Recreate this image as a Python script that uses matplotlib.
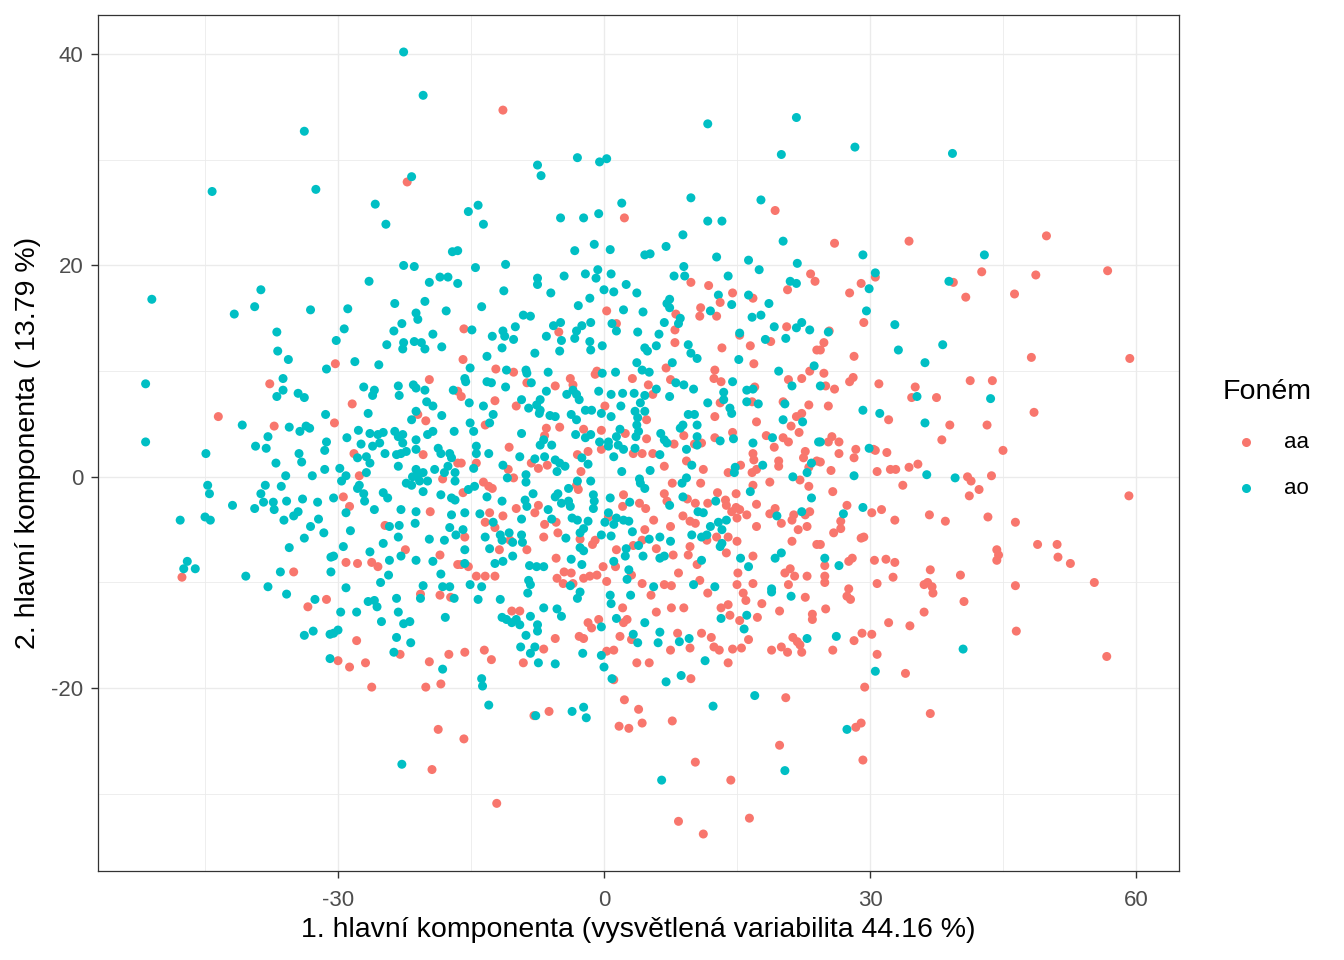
import matplotlib.pyplot as plt
from matplotlib.lines import Line2D

plt.rcParams['font.family'] = ['Liberation Sans', 'DejaVu Sans']
plt.rcParams['axes.unicode_minus'] = False

aa_pts = [
    (-22.2, 27.9), (-11.4, 34.7), (2.3, 24.5), (19.3, 25.2), (9.8, 18.4), (11.8, 18.1), (14.5, 17.4),
    (16.8, 16.9), (20.7, 17.7), (23.3, 19.2), (23.8, 18.5),
    (26.0, 22.1), (34.4, 22.3), (49.9, 22.8), (30.6, 18.9), (29.0, 18.3), (27.7, 17.4), (39.4, 18.4),
    (42.6, 19.4), (40.8, 17.0), (46.3, 17.3), (48.7, 19.1), (56.8, 19.5),
    (-30.3, 10.7), (-37.7, 8.8), (-43.5, 5.7), (-37.2, 4.8), (-30.4, 5.1), (-27.6, 0.1), (-28.2, 2.2),
    (-28.4, 6.9), (-19.7, 9.2), (-21.0, 5.9), (-20.1, 5.3), (-16.5, 8.1), (-20.4, 2.1), (-16.5, 1.3),
    (-18.2, -0.2), (-29.4, -1.9), (-28.7, -2.8), (-19.6, -3.3), (-24.7, -4.6), (-29.1, -8.1), (-27.8, -8.2),
    (-26.2, -8.1), (-25.5, -8.5), (-22.4, -6.9), (-18.5, -7.4), (-16.5, -8.3), (-47.6, -9.5), (-35.0, -9.0),
    (29.3, 14.6), (25.4, 13.8), (24.8, 12.7), (24.4, 12.0), (28.2, 11.4), (48.2, 11.3), (59.3, 11.2),
    (24.8, 9.8), (28.1, 9.4), (27.7, 9.0), (31.0, 8.8), (25.0, 8.6), (26.0, 8.3), (35.1, 8.5), (34.7, 7.5),
    (37.5, 7.5), (41.3, 9.1), (43.8, 9.1), (25.3, 6.7), (32.1, 5.4), (39.0, 4.9), (43.2, 4.9), (48.5, 6.1),
    (38.1, 3.5), (25.7, 3.8), (25.3, 3.3), (26.5, 3.3), (30.4, 2.6), (30.6, 2.5), (31.9, 2.3), (28.4, 2.6),
    (28.2, 1.8), (26.5, 2.2), (45.0, 2.5), (24.4, 1.4), (25.6, 0.6), (30.8, 0.5), (32.3, 0.7), (32.9, 0.7),
    (34.4, 0.9), (35.4, 1.2), (41.0, 0.0), (41.4, -0.4), (43.7, 0.1), (33.7, -0.8), (25.8, -1.4),
    (42.3, -1.2), (41.2, -1.8), (59.2, -1.8), (27.4, -2.7), (30.2, -3.4), (31.3, -3.1), (36.7, -3.6),
    (43.3, -3.8), (32.8, -4.1), (38.5, -4.2), (46.4, -4.3), (26.7, -4.2), (26.7, -4.9), (25.9, -5.3),
    (29.0, -5.8), (29.3, -5.7), (24.4, -6.4), (48.9, -6.4), (51.1, -6.4), (44.3, -6.9), (44.5, -7.4),
    (44.3, -7.9), (51.2, -7.6), (52.6, -8.2), (24.9, -8.4), (27.6, -8.0), (28.0, -7.7), (30.5, -7.9),
    (31.8, -7.8), (32.8, -8.1), (36.8, -8.8), (40.2, -9.3), (32.6, -9.5), (24.9, -9.4), (24.9, -10.0),
    (30.8, -10.1), (36.1, -10.2), (36.5, -10.0), (37.0, -10.4), (27.6, -10.6), (46.4, -10.3), (55.3, -10.0),
    (0.3, 15.7), (8.1, 15.4), (10.9, 16.0), (10.8, 15.2), (12.7, 15.2), (13.1, 16.5), (-15.8, 14.0),
    (-5.1, 13.7), (1.4, 14.5), (8.0, 13.9), (8.0, 12.7), (20.6, 14.2), (13.3, 12.2), (15.3, 13.4),
    (16.5, 12.4), (18.8, 12.8), (24.0, 12.0), (16.9, 10.7), (23.2, 10.0), (-15.9, 11.1), (-12.2, 10.2),
    (-10.2, 9.9), (7.0, 10.3), (-0.8, 10.0), (-1.0, 9.7), (12.5, 10.1),
    (-16.1, 7.6), (-8.7, 8.9), (-5.5, 8.6), (-3.8, 9.3), (-3.5, 8.7), (3.2, 9.3), (5.0, 8.7), (5.5, 7.8),
    (7.5, 9.2), (12.4, 9.3), (13.2, 9.0), (13.1, 7.0), (17.0, 8.5), (16.7, 7.1), (20.8, 9.2), (22.3, 9.3),
    (20.2, 7.1), (-12.3, 7.2), (-9.9, 6.7),
    (-13.4, 4.9), (-5.0, 4.7), (-6.5, 4.6), (-6.7, 3.9), (0.1, 6.7), (4.8, 5.4), (-2.3, 4.5), (-0.3, 4.4),
    (2.4, 4.1), (4.8, 3.6), (7.9, 3.1), (9.0, 3.9), (12.5, 5.7), (14.5, 4.2), (12.5, 3.7), (17.2, 5.2),
    (18.3, 3.9), (21.1, 4.8), (22.0, 4.2), (21.7, 5.7), (22.3, 6.0), (23.1, 6.8), (20.2, 3.7), (20.8, 3.3),
    (-10.7, 2.8), (-14.4, 1.3), (-16.1, 1.3), (-10.8, 0.7), (-8.2, 1.3), (-7.4, 0.8), (-6.4, 1.1),
    (-3.0, 2.1), (-1.8, 2.4), (-2.6, 0.5), (-0.3, 2.6), (3.3, 2.2), (4.3, 2.2), (5.5, 2.2), (6.8, 1.0),
    (9.3, 1.5), (10.2, 3.1), (11.0, 3.2), (11.2, 0.7), (14.0, 0.4), (15.4, 1.1), (16.8, 2.2), (16.9, 1.6),
    (16.7, 0.4), (17.2, 0.7), (19.2, 2.8), (19.7, 1.5), (19.7, 1.0), (22.7, 2.4), (22.5, 1.8), (24.0, 1.5),
    (23.1, 0.9),
    (-10.2, -0.1), (-13.6, -0.5), (-13.0, -0.9), (-12.6, -1.1), (-15.9, -1.5), (-7.4, -2.7), (-7.8, -3.4),
    (-9.9, -3.0), (-3.1, -0.8), (-2.9, -1.2), (2.2, -1.7), (2.1, -2.8), (4.0, -2.5), (4.7, -3.0),
    (7.7, -0.6), (10.9, -0.6), (6.8, -1.6), (7.1, -2.3), (9.4, -2.1), (10.3, -2.5), (11.7, -2.5),
    (12.8, -1.5), (13.7, -2.2), (13.8, -2.7), (14.9, -1.6), (14.9, -2.9), (16.8, -0.8), (18.7, -0.5),
    (22.1, -0.3), (23.1, -0.9), (17.2, -2.6), (19.3, -3.0), (21.4, -3.6), (23.2, -3.3),
    (-12.9, -3.4), (-11.4, -3.7), (-13.4, -4.3), (-12.3, -4.8), (-10.6, -6.0), (-8.7, -6.9), (-11.8, -6.9),
    (-15.7, -5.7), (-6.7, -4.5), (-5.4, -4.3), (-6.8, -5.7), (-5.2, -5.3), (-2.7, -5.9), (-1.0, -6.0),
    (-1.3, -6.4), (0.5, -3.8), (4.6, -5.0), (5.6, -4.1), (7.5, -4.7), (4.3, -6.0), (3.3, -6.5), (1.4, -6.9),
    (5.9, -6.8), (7.8, -7.4), (8.9, -3.7), (9.7, -4.2), (10.3, -4.4), (12.7, -5.7), (14.0, -5.7),
    (14.4, -3.3), (15.3, -3.1), (15.0, -3.9), (16.1, -3.6), (17.2, -4.7), (20.0, -4.4), (18.7, -3.5),
    (21.2, -4.1), (21.9, -5.0), (22.9, -4.7), (22.7, -3.6), (21.2, -6.1), (15.0, -6.1), (11.6, -6.0),
    (9.7, -6.6), (13.8, -7.2), (9.5, -7.4), (24.0, -6.4),
    (-16.1, -8.3), (-15.3, -8.5), (-14.4, -9.4), (-13.4, -9.4), (-12.3, -9.4), (-5.4, -7.7), (-5.3, -9.6),
    (-4.5, -9.0), (-3.7, -9.1), (-4.6, -10.1), (-3.5, -10.1), (-2.3, -9.6), (-1.6, -9.4), (-0.8, -9.3),
    (-0.1, -8.5), (0.3, -9.9), (1.3, -8.5), (3.1, -9.3), (4.3, -10.1), (6.8, -10.2), (7.6, -10.3),
    (8.4, -9.1), (10.5, -8.3), (10.8, -9.8), (15.1, -9.1), (15.0, -10.2), (16.8, -7.5), (16.8, -10.1),
    (21.0, -8.7), (21.5, -9.4), (22.9, -9.4), (20.4, -9.1), (20.8, -10.2),
    (-31.3, -11.6), (-33.4, -12.3), (-20.7, -11.1), (-18.5, -11.2), (-17.3, -11.4), (-27.9, -15.5),
    (-23.0, -16.8), (-30.0, -17.4), (-28.7, -18.0), (-26.9, -17.6), (-19.7, -17.5), (-17.5, -16.8),
    (-26.2, -19.9), (-20.1, -19.9), (-18.4, -19.6), (-18.7, -23.9), (-19.4, -27.7),
    (5.3, -11.2), (11.7, -11.0), (15.7, -11.0), (16.0, -11.7), (22.7, -11.4), (-10.4, -12.7), (-9.5, -12.7),
    (-5.5, -15.3), (-1.8, -13.8), (-1.4, -14.3), (-0.6, -13.5), (-2.8, -15.1), (-2.3, -15.3), (-6.8, -16.3),
    (-15.7, -16.6), (-13.5, -16.4), (-12.7, -17.3), (-9.1, -17.6), (0.3, -16.5), (1.1, -16.4), (1.1, -19.2),
    (-7.9, -22.6), (-6.2, -22.2), (-15.8, -24.8), (-12.1, -30.9), (2.1, -12.4), (2.2, -13.8), (2.6, -13.5),
    (3.1, -15.4), (1.8, -15.1), (5.9, -12.8), (7.6, -12.4), (9.0, -12.4), (8.3, -14.8), (7.5, -16.4),
    (9.7, -16.2), (3.7, -17.6), (5.1, -17.6), (9.8, -19.1), (11.0, -14.8), (12.1, -15.2), (12.4, -16.1),
    (13.0, -16.4), (14.0, -17.6), (13.2, -12.4), (14.0, -12.1), (14.2, -13.1), (15.3, -13.6), (16.3, -15.4),
    (14.5, -16.3), (15.5, -16.2), (17.3, -13.3), (17.8, -12.0), (19.8, -12.7), (23.5, -13.0), (23.5, -13.5),
    (18.9, -16.4), (20.0, -16.1), (20.7, -16.6), (21.3, -15.2), (21.8, -15.6), (22.1, -15.9), (22.3, -16.6),
    (20.5, -20.9), (2.3, -21.1), (3.9, -22.0), (4.3, -23.3), (1.7, -23.6), (2.8, -23.8), (7.7, -23.1),
    (10.3, -27.0), (14.3, -28.7), (19.8, -25.4), (8.4, -32.6), (11.2, -33.8), (16.4, -32.3),
    (27.4, -11.3), (27.8, -11.6), (37.1, -11.0), (25.0, -12.5), (40.6, -11.8), (36.1, -12.8), (32.1, -13.8),
    (34.5, -14.1), (29.1, -14.8), (30.2, -14.9), (28.2, -15.5), (25.8, -16.4), (30.8, -16.8), (46.5, -14.6),
    (56.7, -17.0), (34.0, -18.6), (29.4, -19.9), (36.8, -22.4), (29.0, -23.3), (28.4, -23.7), (29.2, -26.8),
]

ao_pts = [
    (-22.6, 40.2), (-20.4, 36.1), (-33.8, 32.7), (-44.2, 27.0), (-32.5, 27.2), (-21.7, 28.4), (-25.8, 25.8),
    (-24.6, 23.9), (-17.1, 21.3), (-16.5, 21.4), (-22.6, 20.0), (-21.4, 19.9), (-26.5, 18.5), (-19.7, 18.4),
    (-18.5, 18.9), (-17.6, 18.9), (-16.5, 18.3), (-38.7, 17.7), (-51.0, 16.8),
    (11.7, 33.4), (21.7, 34.0), (-7.5, 29.5), (-7.1, 28.5), (-3.0, 30.2), (-0.5, 29.8), (0.3, 30.1),
    (20.0, 30.5), (-15.3, 25.1), (-14.2, 25.7), (-13.6, 23.9), (-4.9, 24.5), (-2.3, 24.5), (-0.6, 24.9),
    (2.0, 25.9), (9.8, 26.4), (17.7, 26.2), (11.7, 24.2), (13.3, 24.2), (8.9, 22.9), (20.2, 22.3),
    (-3.3, 21.4), (-1.1, 22.0), (0.7, 21.5), (4.6, 21.0), (5.2, 21.1), (7.0, 21.8), (12.7, 20.8),
    (16.3, 20.5), (17.5, 19.6), (21.8, 20.2), (-14.5, 19.8), (-11.1, 20.1), (9.0, 19.9), (-11.3, 17.6),
    (-7.5, 18.8), (-7.5, 18.2), (-6.0, 17.4), (-4.5, 19.0), (-2.1, 19.2), (-0.7, 19.6), (-0.9, 18.8),
    (0.8, 19.2), (2.5, 18.2), (0.0, 17.7), (1.1, 17.5), (3.7, 17.4), (-1.6, 16.9), (7.9, 19.0), (9.1, 19.0),
    (14.0, 19.0), (12.9, 17.2), (16.3, 17.2), (7.4, 16.8), (21.0, 18.5), (21.7, 18.3),
    (28.3, 31.2), (39.3, 30.6), (29.2, 21.0), (42.9, 21.0), (30.6, 19.3), (29.9, 17.8), (38.9, 18.5),
    (-41.7, 15.4), (-39.4, 16.1), (-33.1, 15.8), (-28.9, 15.9), (-23.6, 16.4), (-20.2, 16.6), (-17.8, 15.7),
    (-36.9, 13.7), (-29.3, 14.0), (-30.2, 12.9), (-36.8, 11.9), (-35.6, 11.1), (-31.3, 10.2), (-28.1, 10.9),
    (-25.4, 10.6), (-23.7, 13.8), (-22.8, 14.5), (-21.2, 15.5), (-21.0, 14.9), (-19.3, 13.5), (-24.5, 12.5),
    (-22.6, 12.7), (-22.7, 12.1), (-21.4, 12.8), (-20.6, 12.7), (-20.2, 12.1), (-18.3, 12.3), (-51.7, 8.8),
    (-51.7, 3.3), (-36.2, 9.3), (-36.2, 8.2), (-36.9, 7.6), (-34.5, 7.9), (-33.8, 7.5), (-40.8, 4.9),
    (-35.5, 4.7), (-34.3, 4.3), (-33.6, 4.8), (-33.2, 4.6), (-31.4, 5.9), (-37.9, 3.8), (-39.3, 2.9),
    (-38.1, 2.7), (-44.9, 2.2), (-37.0, 1.3), (-34.4, 2.2), (-34.1, 1.4), (-31.3, 3.3), (-31.5, 2.5),
    (-31.5, 0.7), (-35.9, 0.1), (-32.9, 0.1), (-29.8, 0.8), (-29.1, 0.1), (-29.6, -0.4), (-29.0, 3.7),
    (-27.7, 4.4), (-27.4, 3.1), (-26.6, 6.0), (-27.1, 8.5), (-26.1, 7.7), (-25.9, 8.2), (-26.4, 4.1),
    (-25.5, 4.0), (-24.9, 4.2), (-26.1, 2.9), (-25.3, 3.2), (-24.7, 2.2), (-26.8, 1.9), (-26.4, 1.3),
    (-27.8, 1.8), (-26.8, 0.4), (-23.2, 8.6), (-23.1, 7.7), (-21.5, 8.7), (-21.2, 8.4), (-20.2, 8.2),
    (-20.0, 7.1), (-19.3, 6.7), (-21.2, 6.2), (-21.7, 5.4), (-18.3, 5.8), (-17.0, 8.2), (-16.9, 4.3),
    (-19.9, 4.0), (-19.3, 4.3), (-23.6, 4.3), (-23.2, 3.8), (-22.7, 4.0), (-22.7, 3.2), (-21.2, 3.5),
    (-21.2, 2.6), (-23.4, 2.1), (-22.9, 2.2), (-22.3, 2.4), (-23.2, 1.0), (-18.7, 2.7), (-18.4, 2.2),
    (-17.4, 2.2), (-17.2, 1.8), (-17.6, 1.0), (-18.0, 0.4), (-16.8, 0.4), (-16.8, -0.4), (-19.1, 0.7),
    (-21.2, 0.7), (-21.0, 0.0), (-20.4, 0.4), (-21.6, 0.0), (-20.8, -0.4), (-19.9, -0.4), (-22.3, -0.6),
    (-21.7, -0.8), (-20.4, -1.4), (-18.4, -1.7), (-17.2, -2.0), (-16.8, -2.2), (-44.7, -0.8), (-44.5, -1.6),
    (-41.9, -2.7), (-47.8, -4.1), (-45.0, -3.8), (-44.4, -4.1), (-38.7, -1.6), (-38.2, -0.8), (-36.4, -0.9),
    (-38.4, -2.4), (-37.3, -2.4), (-37.2, -3.1), (-39.4, -3.0), (-35.8, -2.3), (-34.0, -2.1), (-32.3, -2.4),
    (-34.5, -3.3), (-35.0, -3.7), (-36.1, -4.1), (-32.2, -4.0), (-33.1, -4.7), (-31.6, -5.3), (-33.8, -5.8),
    (-35.5, -6.7), (-30.5, -2.0), (-29.1, -3.4), (-27.8, -1.1), (-27.6, -0.8), (-27.1, -1.6), (-27.0, -2.3),
    (-25.9, -3.1), (-24.9, -1.5), (-24.4, -2.0), (-22.9, -3.1), (-21.2, -3.3), (-17.2, -3.6), (-28.6, -5.1),
    (-24.2, -4.7), (-23.1, -4.6), (-21.3, -4.4), (-17.4, -4.8), (-16.7, -5.5), (-23.2, -5.7), (-24.9, -6.3),
    (-19.7, -5.9), (-18.0, -6.0), (-29.4, -6.6), (-30.5, -7.5), (-30.8, -7.6), (-26.4, -7.1), (-24.2, -7.9),
    (-22.9, -7.5), (-21.2, -7.9), (-19.3, -8.0), (-18.4, -9.2), (-47.0, -8.0), (-47.4, -8.7), (-46.1, -8.7),
    (-40.4, -9.4), (-36.5, -9.0), (-30.8, -9.0), (-37.9, -10.4), (-29.1, -10.5), (-25.2, -10.0),
    (-24.3, -9.3), (-20.4, -10.3), (-18.2, -10.4), (-17.4, -10.4),
    (29.6, 15.7), (25.3, 13.7), (32.8, 14.4), (33.2, 12.0), (38.2, 12.5), (36.2, 10.8), (24.4, 8.6),
    (35.3, 7.6), (43.6, 7.4), (29.2, 6.3), (31.1, 6.0), (36.2, 5.1), (24.4, 3.3), (29.9, 2.7), (28.2, 0.1),
    (36.4, 0.2), (39.6, -0.1), (29.2, -2.9), (27.0, -3.5), (24.9, -7.7), (26.5, -8.4),
    (-13.8, 16.1), (-2.9, 16.2), (2.2, 15.8), (4.4, 15.6), (7.1, 16.4), (7.4, 16.0), (8.6, 15.0), (8.4, 14.5),
    (12.0, 15.7), (14.4, 16.3), (18.6, 16.4), (16.7, 15.1), (17.7, 15.3), (-14.9, 13.9), (-12.6, 13.3),
    (-11.4, 13.8), (-11.2, 13.3), (-10.0, 14.2), (-9.1, 15.3), (-8.3, 15.2), (-5.7, 14.3), (-4.9, 14.6),
    (-6.5, 13.3), (-4.8, 12.9), (-3.1, 13.8), (-2.5, 14.3), (-1.5, 14.6), (-3.3, 13.1), (0.9, 14.5),
    (1.4, 13.8), (3.8, 13.7), (6.2, 13.5), (6.8, 14.6), (19.2, 14.2), (21.7, 14.1), (22.3, 14.6), (23.2, 13.9),
    (-11.5, 12.2), (-10.2, 13.0), (-13.2, 11.4), (-7.8, 11.7), (-5.0, 11.9), (-1.6, 12.8), (-1.5, 12.0),
    (-0.2, 12.4), (4.6, 12.2), (4.9, 11.9), (5.9, 12.4), (9.5, 12.5), (9.8, 11.7), (10.5, 11.2), (15.3, 13.6),
    (18.2, 13.0), (20.5, 13.1), (15.2, 11.1), (23.7, 10.5), (-15.1, 10.3), (-11.0, 10.1), (-8.8, 10.1),
    (-8.7, 9.8), (3.7, 10.8), (4.3, 10.1), (5.1, 9.9), (7.7, 10.8), (1.3, 9.9), (-0.2, 9.8), (-6.3, 9.9),
    (19.7, 10.0),
    (-15.7, 9.3), (-15.6, 9.0), (-13.2, 9.0), (-12.7, 8.9), (-11.1, 8.5), (-8.2, 8.9), (-6.5, 8.1),
    (-3.5, 8.2), (-4.2, 7.8), (-3.1, 7.8), (-2.8, 7.3), (-0.6, 8.1), (0.8, 7.8), (2.1, 7.9), (3.4, 7.9),
    (4.6, 7.7), (5.9, 8.3), (4.1, 7.0), (8.1, 8.9), (9.0, 8.7), (10.1, 8.3), (7.4, 7.6), (14.5, 9.0),
    (13.5, 8.0), (13.5, 7.3), (11.7, 7.0), (16.1, 8.2), (16.8, 8.3), (16.1, 7.1), (17.4, 6.9), (21.2, 8.6),
    (20.4, 6.9), (-15.2, 7.0), (-9.3, 7.3), (-8.5, 6.5), (-7.2, 7.3), (-7.6, 6.8),
    (-13.6, 6.7), (-12.5, 5.9), (-12.9, 5.1), (-15.1, 5.1), (-14.7, 4.3), (-9.3, 4.1), (-7.2, 6.3),
    (-7.3, 6.0), (-6.1, 5.8), (-5.5, 5.7), (-6.8, 3.5), (-7.2, 3.0), (-5.9, 3.0), (-3.7, 5.9), (-3.1, 5.4),
    (-2.1, 6.3), (-1.4, 6.3), (-0.3, 6.0), (0.8, 5.7), (1.9, 6.7), (3.5, 6.2), (3.8, 5.6), (4.6, 6.2),
    (3.7, 4.9), (3.9, 4.3), (-3.2, 4.0), (-2.1, 3.7), (-1.5, 4.0), (1.8, 4.5), (1.4, 3.8), (-0.5, 3.3),
    (0.5, 3.3), (3.6, 3.8), (6.4, 4.1), (6.8, 3.5), (7.1, 3.2), (8.6, 4.6), (8.9, 4.9), (10.5, 4.9),
    (10.5, 3.8), (9.5, 5.9), (10.2, 5.9), (14.2, 6.5), (14.4, 6.0), (14.6, 3.6), (13.1, 3.4), (16.8, 3.2),
    (19.0, 3.7), (20.2, 5.4), (22.4, 5.2), (24.2, 3.3),
    (-14.4, 2.9), (-14.4, 2.2), (-13.0, 2.2), (-14.7, 0.8), (-11.4, 1.1), (-9.5, 1.9), (-7.8, 1.7),
    (-6.7, 1.9), (-5.5, 1.6), (-5.0, 1.3), (-4.4, 1.0), (-5.3, 0.5), (-2.5, 1.8), (-1.8, 1.2), (0.5, 2.9),
    (1.1, 1.9), (1.6, 3.0), (2.2, 2.6), (2.0, 0.5), (3.5, 2.7), (6.3, 2.1), (5.2, 0.6), (9.3, 2.6), (9.9, 1.1),
    (10.5, 3.0), (14.8, 0.9), (14.7, 0.4), (17.9, 1.1), (23.4, 1.3), (22.9, 0.4),
    (-10.9, -0.1), (-8.8, 0.2), (-8.8, -0.5), (-14.6, -0.9), (-15.3, -1.2), (-13.2, -1.9), (-11.5, -2.3),
    (-15.7, -3.4), (-8.9, -2.2), (-8.7, -2.8), (-8.0, -1.6), (-6.3, -3.1), (-5.5, -1.9), (-5.2, -1.6),
    (-4.8, -2.5), (-4.0, -2.3), (-3.8, -2.8), (-4.0, -1.1), (-3.0, -0.4), (-1.5, -0.4), (-1.2, -1.7),
    (-1.1, -2.3), (-1.2, -3.0), (0.7, -2.0), (2.9, -2.4), (4.0, -0.2), (4.1, -0.6), (4.6, -1.1), (8.8, -0.6),
    (9.3, -0.1), (7.4, -2.7), (8.9, -1.9), (12.6, -2.3), (16.5, -1.4), (21.3, 0.0), (23.4, -2.0),
    (19.5, -3.7), (22.3, -3.3),
    (-14.0, -3.5), (-12.5, -4.3), (-9.3, -4.0), (-13.4, -5.7), (-11.7, -5.5), (-11.5, -6.0), (-10.7, -5.3),
    (-10.3, -6.2), (-9.3, -5.5), (-9.2, -6.2), (-12.9, -6.8), (-15.7, -6.9), (-15.9, -5.0), (-5.9, -4.0),
    (-4.3, -5.8), (-3.6, -3.9), (-3.0, -4.1), (-1.8, -4.2), (-2.3, -4.9), (-2.7, -5.3), (-2.7, -6.7),
    (-2.3, -7.0), (-0.3, -5.5), (0.8, -5.6), (0.5, -3.4), (1.1, -4.5), (0.1, -4.3), (1.4, -3.9), (2.2, -4.1),
    (2.8, -4.2), (3.2, -5.2), (5.1, -5.9), (6.3, -5.7), (7.5, -6.1), (3.9, -6.5), (2.5, -6.8), (10.6, -3.3),
    (11.2, -3.4), (9.9, -5.5), (11.0, -5.7), (11.6, -5.5), (12.0, -4.7), (12.9, -4.3), (13.3, -5.0),
    (13.3, -6.3), (13.1, -6.6), (13.8, -4.1),
    (-15.7, -8.2), (-12.3, -8.2), (-11.4, -8.0), (-10.3, -7.5), (-15.1, -10.2), (-13.8, -10.4), (-8.4, -8.4),
    (-7.6, -8.5), (-6.8, -8.5), (-8.5, -9.8), (-8.3, -10.2), (-3.7, -7.8), (-2.5, -8.3), (-3.8, -10.3),
    (1.1, -8.0), (2.4, -7.5), (2.8, -8.8), (2.6, -9.7), (4.4, -7.5), (6.3, -7.7), (6.8, -7.5), (5.6, -10.4),
    (11.0, -7.9), (10.1, -10.2), (12.5, -10.4), (15.4, -7.7), (16.3, -8.5), (18.9, -10.6), (19.3, -7.7),
    (20.0, -7.2),
    (-35.8, -11.1), (-32.6, -11.6), (-26.6, -11.8), (-25.9, -11.7), (-25.6, -12.3), (-23.4, -11.5),
    (-20.7, -11.5), (-16.9, -11.5), (-29.7, -12.8), (-27.9, -12.8), (-23.2, -12.8), (-25.1, -13.7),
    (-22.6, -13.9), (-21.9, -13.7), (-17.9, -13.3), (-33.8, -15.0), (-32.8, -14.6), (-30.9, -14.9),
    (-30.5, -14.8), (-30.0, -14.5), (-23.4, -15.2), (-21.8, -15.7), (-23.7, -16.6), (-30.9, -17.2),
    (-18.2, -18.2), (-22.8, -27.2),
    (-14.2, -11.6), (-11.7, -11.6), (-8.6, -11.0), (-3.0, -11.5), (-2.7, -10.9), (0.7, -11.2), (3.0, -11.2),
    (18.9, -10.9), (21.1, -11.3), (-11.5, -13.3), (-11.0, -13.5), (-9.9, -13.5), (-9.5, -14.0),
    (-10.4, -13.8), (-8.3, -13.2), (-6.8, -12.4), (-5.3, -12.5), (-4.8, -13.2), (-7.5, -14.0), (-7.5, -14.6),
    (-8.8, -15.0), (-0.3, -14.2), (-9.4, -16.1), (-7.8, -16.1), (-8.3, -16.7), (-7.4, -17.6), (-5.5, -17.7),
    (-2.4, -16.7), (-0.3, -16.9), (0.0, -18.0), (0.9, -19.1), (-13.8, -19.1), (-13.7, -19.8), (-13.0, -21.6),
    (-7.7, -22.6), (-3.6, -22.2), (-2.3, -21.8), (-2.0, -22.8), (1.4, -13.4), (0.8, -12.0), (3.3, -14.9),
    (3.8, -15.7), (4.6, -13.8), (6.3, -14.7), (6.1, -15.7), (8.5, -15.6), (9.6, -15.3), (7.0, -19.4),
    (8.7, -18.8), (11.4, -17.4), (13.2, -13.4), (16.1, -13.1), (15.8, -14.4), (22.9, -15.3), (17.0, -20.7),
    (12.3, -21.7), (6.5, -28.7), (20.4, -27.8),
    (26.2, -15.1), (40.5, -16.3), (30.6, -18.4), (27.4, -23.9),
]

groups = ["aa", "ao"]
colors = {"aa": "#F8766D", "ao": "#00BFC4"}

x_ticks = [-30, 0, 30, 60]
y_ticks = [-20, 0, 20, 40]
x_minor = [-45, -15, 15, 45]
y_minor = [-30, -10, 10, 30]

# ggplot draws rows in data order, so mix the two groups
mixed = []
for i in range(max(len(aa_pts), len(ao_pts))):
    if i < len(ao_pts):
        mixed.append((ao_pts[i], colors["ao"]))
    if i < len(aa_pts):
        mixed.append((aa_pts[i], colors["aa"]))
xs = [p[0][0] for p in mixed]
ys = [p[0][1] for p in mixed]
cs = [p[1] for p in mixed]

fig = plt.figure(figsize=(13.44, 9.6), dpi=100)
ax = fig.add_axes([98 / 1344, 1 - 871 / 960, (1179 - 98) / 1344, (871 - 15) / 960])

ax.scatter(xs, ys, c=cs, s=42, linewidths=0, zorder=3)

ax.set_xlim(-57.07, 64.85)
ax.set_ylim(-37.3, 43.7)
ax.set_xticks(x_ticks)
ax.set_yticks(y_ticks)
ax.set_xticks(x_minor, minor=True)
ax.set_yticks(y_minor, minor=True)
ax.grid(which="major", color="#EBEBEB", linewidth=1.0, zorder=0)
ax.grid(which="minor", color="#EBEBEB", linewidth=0.6, zorder=0)
ax.set_axisbelow(True)
ax.tick_params(which="minor", length=0)
ax.tick_params(which="major", length=5, width=1.0, color="#333333",
               labelsize=16, labelcolor="#4D4D4D")
ax.tick_params(axis="x", pad=8.5)
ax.tick_params(axis="y", pad=5.5)
for s in ax.spines.values():
    s.set_color("#333333")
    s.set_linewidth(0.9)

fig.text(638.5 / 1344, 1 - 930 / 960, "1. hlavní komponenta (vysvětlená variabilita 44.16 %)",
         ha="center", va="center", fontsize=20.5)
fig.text(28 / 1344, 1 - 443 / 960, "2. hlavní komponenta ( 13.79 %)",
         ha="center", va="center", rotation=90, fontsize=20.5)

# legend
fig.text(1223 / 1344, 1 - 392 / 960, "Foném", ha="left", va="center", fontsize=20.5)
for g, ypx in zip(groups, [442, 488]):
    fig.add_artist(Line2D([1246 / 1344], [1 - ypx / 960], marker="o", markersize=6.5,
                          color=colors[g], markeredgewidth=0, transform=fig.transFigure))
    fig.text(1284 / 1344, 1 - ypx / 960, g, ha="left", va="center", fontsize=16)

fig.savefig("out.png", dpi=100)
